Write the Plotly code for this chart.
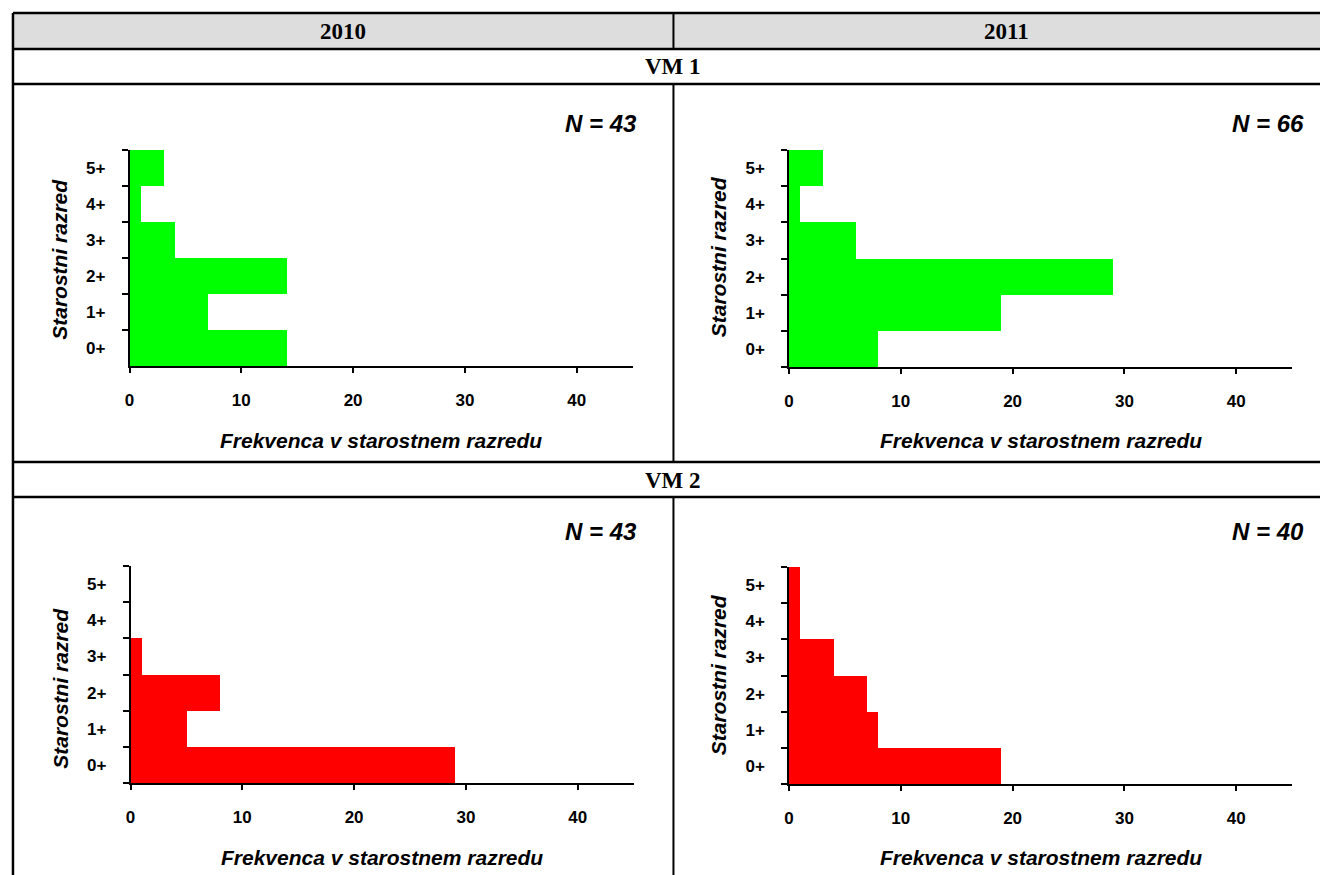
import plotly.graph_objects as go

# Age classes and counts per site and year
age_classes = ["0+", "1+", "2+", "3+", "4+", "5+"]
vm1_2010 = [14, 7, 14, 4, 1, 3]
vm1_2011 = [8, 19, 29, 6, 1, 3]
vm2_2010 = [29, 5, 8, 1, 0, 0]
vm2_2011 = [19, 8, 7, 4, 1, 1]

years = ["2010", "2011"]
sites = ["VM 1", "VM 2"]
x_ticks = [0, 10, 20, 30, 40]

W, H = 1320, 875


def px(x):
    return x / W


def py(y):
    return 1 - y / H


GREEN = "#00FF00"
RED = "#FF0000"
SANS = "Liberation Sans, Arial, sans-serif"
SERIF = "Liberation Serif, Times New Roman, serif"

# (series, colour, x-domain px, y-domain px, x-title y px, y-title centre px, N label y px)
panels = [
    (vm1_2010, GREEN, (125, 630), (150, 366), 440, 259, 123),
    (vm1_2011, GREEN, (787, 1292), (150, 367), 440, 257, 123),
    (vm2_2010, RED, (126, 631), (566, 783), 857, 688, 531),
    (vm2_2011, RED, (787, 1292), (567, 784), 857, 675, 531),
]

fig = go.Figure()
annotations = []

for i, (vals, col, (x0, x1), (y0, y1), tty, ytc, ny) in enumerate(panels):
    k = "" if i == 0 else str(i + 1)
    fig.add_trace(go.Bar(
        x=vals, y=age_classes, orientation="h",
        marker=dict(color=col, line=dict(width=0)),
        width=1.0, xaxis="x" + k, yaxis="y" + k, showlegend=False,
    ))
    fig.layout["xaxis" + k] = dict(
        domain=[px(x0), px(x1)], range=[0, 45], anchor="y" + k,
        tickmode="array", tickvals=x_ticks, ticks="outside", ticklen=5,
        tickwidth=1.5, tickcolor="black", showline=True, linecolor="black",
        linewidth=1.5, showgrid=False, zeroline=False, ticklabelstandoff=13,
        tickfont=dict(family=SANS, size=17, color="black", weight="bold"),
        fixedrange=True,
    )
    fig.layout["yaxis" + k] = dict(
        domain=[py(y1), py(y0)], type="category",
        categoryorder="array", categoryarray=age_classes,
        range=[-0.5, 5.5], anchor="x" + k, tickson="boundaries",
        ticks="outside", ticklen=6, tickwidth=1.5, tickcolor="black",
        showline=True, linecolor="black", linewidth=1.5, showgrid=False,
        zeroline=False, ticklabelstandoff=19,
        tickfont=dict(family=SANS, size=17, color="black", weight="bold"),
        fixedrange=True,
    )
    # axis titles
    annotations.append(dict(
        x=px((x0 + x1) / 2), y=py(tty), xref="paper", yref="paper",
        text="<b><i>Frekvenca v starostnem razredu</i></b>", showarrow=False,
        font=dict(family=SANS, size=21, color="black"),
        xanchor="center", yanchor="middle",
    ))
    annotations.append(dict(
        x=px(x0 - 71), y=py(ytc), xref="paper", yref="paper",
        text="<b><i>Starostni razred</i></b>", showarrow=False, textangle=-90,
        font=dict(family=SANS, size=21, color="black"),
        xanchor="center", yanchor="middle",
    ))
    # sample size
    n_right = 636 if i % 2 == 0 else 1306
    annotations.append(dict(
        x=px(n_right), y=py(ny), xref="paper", yref="paper",
        text="<b><i>N = %d</i></b>" % sum(vals), showarrow=False,
        font=dict(family=SANS, size=24, color="black"),
        xanchor="right", yanchor="middle",
    ))

# table header texts
for yr, cx in zip(years, [339, 1005]):
    annotations.append(dict(
        x=px(cx), y=py(31), xref="paper", yref="paper", text="<b>%s</b>" % yr,
        showarrow=False, font=dict(family=SERIF, size=23, color="black"),
        xanchor="center", yanchor="middle",
    ))
for site, cy in zip(sites, [67, 480]):
    annotations.append(dict(
        x=px(671), y=py(cy), xref="paper", yref="paper", text="<b>%s</b>" % site,
        showarrow=False, font=dict(family=SERIF, size=23, color="black"),
        xanchor="center", yanchor="middle",
    ))

# table grid
shapes = [dict(type="rect", xref="paper", yref="paper",
               x0=px(8), x1=px(1322), y0=py(49), y1=py(13),
               fillcolor="#DDDDDD", line=dict(width=0), layer="below")]
LEFT, RIGHT, MID = 8, 1322, 671
for yy in [13, 49, 84, 462, 497]:
    shapes.append(dict(type="line", xref="paper", yref="paper",
                       x0=px(LEFT), x1=px(RIGHT), y0=py(yy), y1=py(yy),
                       line=dict(color="black", width=2.5)))
shapes.append(dict(type="line", xref="paper", yref="paper",
                   x0=px(LEFT), x1=px(LEFT), y0=py(13), y1=py(880),
                   line=dict(color="black", width=2.5)))
for ya, yb in [(13, 49), (84, 462), (497, 880)]:
    shapes.append(dict(type="line", xref="paper", yref="paper",
                       x0=px(MID), x1=px(MID), y0=py(ya), y1=py(yb),
                       line=dict(color="black", width=2)))

fig.update_layout(
    width=W, height=H, margin=dict(l=0, r=0, t=0, b=0),
    paper_bgcolor="white", plot_bgcolor="white",
    bargap=0, annotations=annotations, shapes=shapes,
)

fig.write_html("out.html", config={"displayModeBar": False})
